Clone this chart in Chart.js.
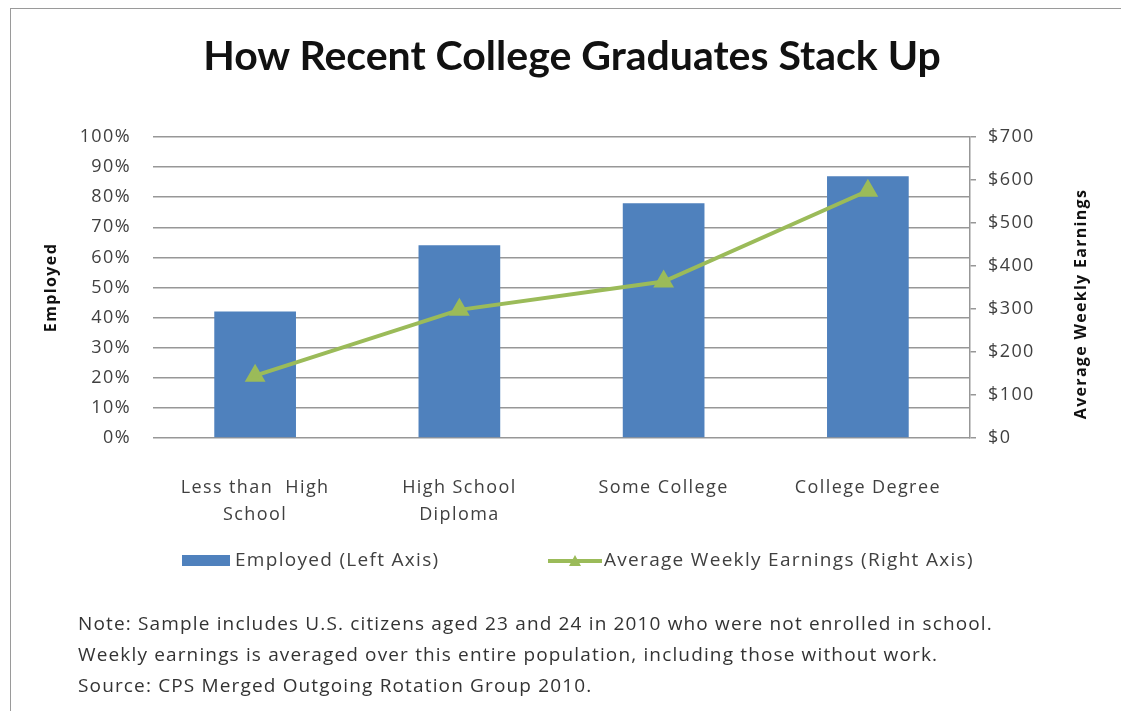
<!DOCTYPE html>
<html lang="en">
<head>
    <meta charset="UTF-8">
    <title>How Recent College Graduates Stack Up</title>
    <script src="https://cdn.jsdelivr.net/npm/chart.js"></script>
    <style>
        body { margin: 0; background: #fff; font-family: "Open Sans", Lato, sans-serif; }
        .page { position: relative; width: 1122px; height: 712px; overflow: hidden; }
        .frame { position: absolute; left: 10px; top: 8px; width: 1110px; height: 702px; border: 1.5px solid #9a9a9a; border-right: none; border-bottom: none; }
        canvas { position: absolute; left: 0; top: 0; }
        .title { position: absolute; left: 0; width: 1144px; top: 30px; text-align: center; font-family: Lato, sans-serif; font-size: 41px; font-weight: bold; color: #111; }
        .right-title { position: absolute; left: 1080px; top: 293px; width: 300px; margin-left: -150px; text-align: center; transform: rotate(-90deg); font-size: 16px; font-weight: bold; letter-spacing: 1.3px; color: #111; }
        .legend { position: absolute; top: 546px; font-size: 19px; letter-spacing: 1.3px; color: #404040; }
        .legend .item { position: absolute; white-space: nowrap; }
        .note { position: absolute; left: 78px; top: 608px; font-size: 19px; letter-spacing: 1.15px; line-height: 31px; color: #333; white-space: nowrap; }
    </style>
</head>
<body>
<div class="page">
    <div class="frame"></div>
    <canvas id="chart" width="1122" height="712"></canvas>
    <div class="title">How Recent College Graduates Stack Up</div>
    <div class="right-title">Average Weekly Earnings</div>

    <!-- legend -->
    <div class="legend">
        <div class="item" style="left:182px;">
            <span style="display:inline-block;width:48px;height:11px;background:#4f81bd;vertical-align:middle;margin-right:5px;"></span>Employed (Left Axis)
        </div>
        <div class="item" style="left:548px;">
            <svg width="54" height="14" style="vertical-align:middle;margin-right:2px;">
                <line x1="0" y1="7" x2="54" y2="7" stroke="#9bbb59" stroke-width="4"/>
                <polygon points="27,1 33,12 21,12" fill="#9bbb59"/>
            </svg>Average Weekly Earnings (Right Axis)
        </div>
    </div>

    <div class="note">
        Note: Sample includes U.S. citizens aged 23 and 24 in 2010 who were not enrolled in school.<br>
        Weekly earnings is averaged over this entire population, including those without work.<br>
        Source: CPS Merged Outgoing Rotation Group 2010.
    </div>
</div>

<script>
// du lieu doc tu hinh
const categories = [['Less than  High', 'School'], ['High School', 'Diploma'], ['Some College'], ['College Degree']];
const employed = [42, 64, 78, 87];          // % (left axis)
const weeklyEarnings = [145, 298, 364, 575]; // $ (right axis)
const leftTicks = [0, 10, 20, 30, 40, 50, 60, 70, 80, 90, 100];
const rightTicks = [0, 100, 200, 300, 400, 500, 600, 700];

const tickColor = '#404040';
const fontFam = '"Open Sans", Lato, sans-serif';

// chu trong anh gian rong hon, them letterSpacing cho canvas
const spacingPlugin = {
    id: 'spacing',
    beforeDraw(chart) { chart.ctx.letterSpacing = '1.4px'; }
};

new Chart(document.getElementById('chart'), {
    data: {
        labels: categories,
        datasets: [
            {
                type: 'line',
                label: 'Average Weekly Earnings (Right Axis)',
                data: weeklyEarnings,
                yAxisID: 'y2',
                borderColor: '#9bbb59',
                backgroundColor: '#9bbb59',
                borderWidth: 4,
                pointStyle: 'triangle',
                pointRadius: 8,
                pointBackgroundColor: '#9bbb59',
                pointBorderColor: '#9bbb59',
                tension: 0,
                order: 0
            },
            {
                type: 'bar',
                label: 'Employed (Left Axis)',
                data: employed,
                yAxisID: 'y',
                backgroundColor: '#4f81bd',
                categoryPercentage: 1,
                barPercentage: 0.4,
                order: 1
            }
        ]
    },
    plugins: [spacingPlugin],
    options: {
        responsive: false,
        animation: false,
        layout: { padding: { top: 137, left: 40, right: 42, bottom: 184 } },
        plugins: {
            legend: { display: false },
            tooltip: { enabled: false }
        },
        scales: {
            x: {
                grid: { display: false },
                border: { display: false },
                ticks: { color: tickColor, font: { family: fontFam, size: 18, lineHeight: 1.5 }, padding: 28, maxRotation: 0 },
                afterFit: s => { s.height = 90; }
            },
            y: {
                position: 'left',
                min: 0, max: 100,
                afterBuildTicks: s => { s.ticks = leftTicks.map(v => ({ value: v })); },
                ticks: { color: tickColor, font: { family: fontFam, size: 18 }, padding: 22, callback: v => v + '%' },
                grid: { color: '#979797', lineWidth: 1.5, drawTicks: false },
                border: { display: false },
                title: { display: true, text: 'Employed', color: '#111', font: { family: fontFam, size: 16, weight: 'bold' }, padding: { top: 2, bottom: 2 } },
                afterFit: s => { s.width = 113; }
            },
            y2: {
                position: 'right',
                min: 0, max: 700,
                afterBuildTicks: s => { s.ticks = rightTicks.map(v => ({ value: v })); },
                ticks: { color: tickColor, font: { family: fontFam, size: 18 }, padding: 12, callback: v => '$' + v },
                grid: { drawOnChartArea: false, color: '#979797', lineWidth: 1.5, tickLength: 6 },
                border: { display: true, color: '#979797', width: 1.5 },
                afterFit: s => { s.width = 110; }
            }
        }
    }
});
</script>
</body>
</html>
